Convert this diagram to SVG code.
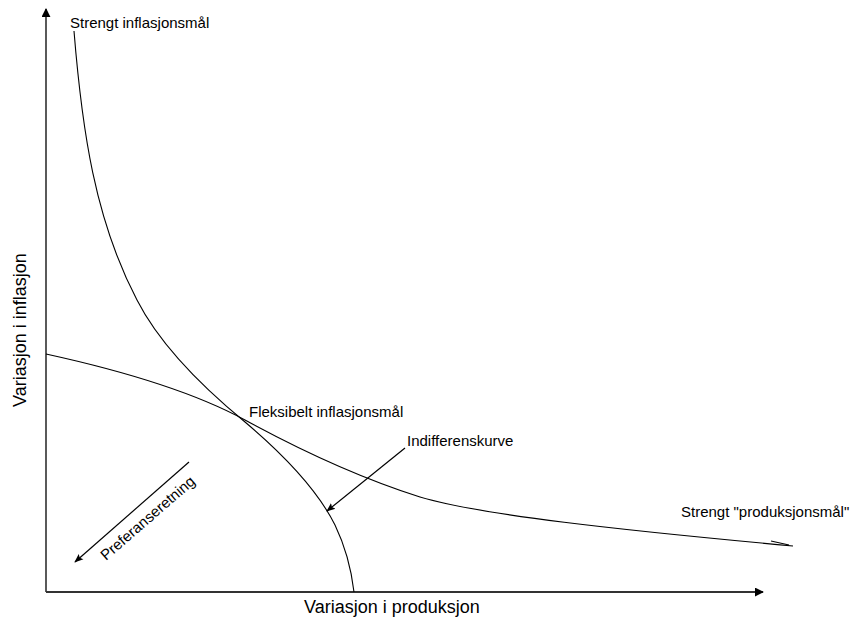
<svg xmlns="http://www.w3.org/2000/svg" width="850" height="619" viewBox="0 0 850 619">
<style>
text{font-family:"Liberation Sans",Arial,sans-serif;fill:#000}
.lbl{font-size:15px}
.ax{font-size:18px}
.crv{fill:none;stroke:#000;stroke-width:1.1}
.arr{fill:none;stroke:#000;stroke-width:1.2}
</style>
<defs>
<marker id="ah" viewBox="0 0 10 10" refX="9" refY="5" markerWidth="9" markerHeight="9" markerUnits="userSpaceOnUse" orient="auto">
<path d="M0,1 L10,5 L0,9 L2,5 Z" fill="#000"/>
</marker>
<marker id="axh" viewBox="0 0 10 10" refX="9" refY="5" markerWidth="9" markerHeight="9" markerUnits="userSpaceOnUse" orient="auto">
<path d="M0,0 L10,5 L0,10 Z" fill="#000"/>
</marker>
</defs>
<g id="axes">
<line x1="46" y1="592" x2="46" y2="9" stroke="#000" stroke-width="1.3" marker-end="url(#axh)"/>
<line x1="46" y1="592" x2="763" y2="592" stroke="#333" stroke-width="1.8" marker-end="url(#axh)"/>
<text class="ax" x="392" y="613" text-anchor="middle">Variasjon i produksjon</text>
<text class="ax" transform="translate(26,330) rotate(-90)" text-anchor="middle">Variasjon i inflasjon</text>
</g>
<g id="curve-strict-inflation">
<path class="crv" d="M74,31 C82,130 95,220 137,300 C160,345 200,385 245,422 C290,460 320,495 335,525 C348,552 352,575 354,592"/>
<text class="lbl" x="70" y="28">Strengt inflasjonsmål</text>
</g>
<g id="curve-indifference">
<path class="crv" d="M46,354 C110,368 190,390 245,420 C300,450 360,478 420,497 C480,515 620,530 793,546"/>
<path class="crv" d="M771,541 L789,545"/>
<text class="lbl" x="681" y="517">Strengt "produksjonsmål"</text>
</g>
<g id="flexible">
<text class="lbl" x="249" y="417">Fleksibelt inflasjonsmål</text>
</g>
<g id="indiff-label">
<text class="lbl" x="407" y="446">Indifferenskurve</text>
</g>
<g id="preference">
<text class="lbl" transform="translate(106,561) rotate(-41)">Preferanseretning</text>
</g>
<g id="connectors">
<line class="arr" x1="189" y1="462" x2="75" y2="562" marker-end="url(#ah)"/>
<line class="arr" x1="405" y1="448" x2="327" y2="511" marker-end="url(#ah)"/>
</g>
</svg>
